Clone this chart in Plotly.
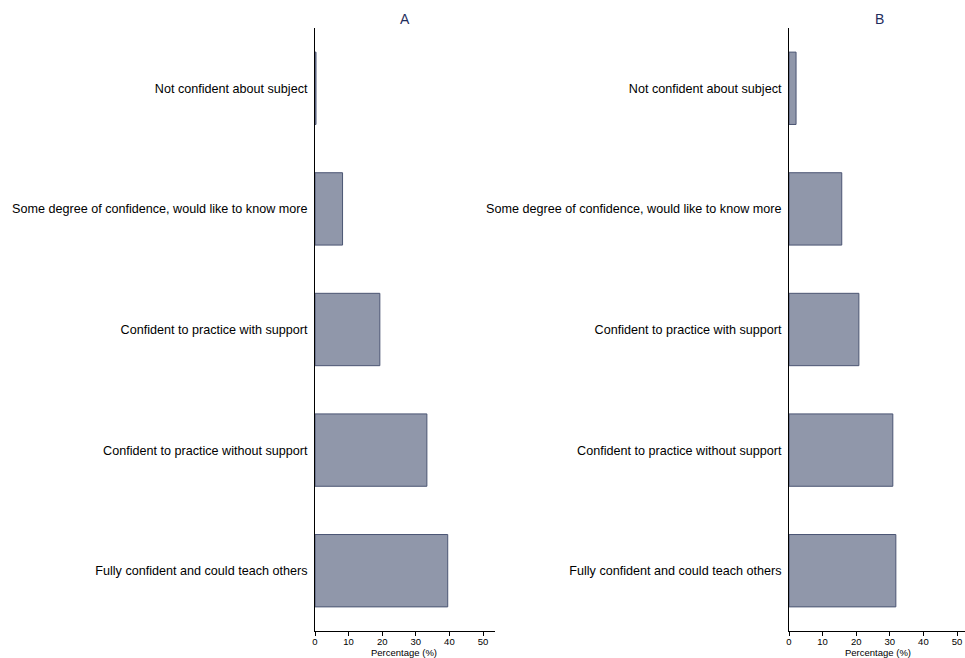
import plotly.graph_objects as go

categories = [
    "Not confident about subject",
    "Some degree of confidence, would like to know more",
    "Confident to practice with support",
    "Confident to practice without support",
    "Fully confident and could teach others",
]
values_a = [0.3, 8.2, 19.3, 33.3, 39.5]
values_b = [2.1, 15.7, 20.8, 30.9, 31.8]
panel_titles = ["A", "B"]
tick_vals = [0, 10, 20, 30, 40, 50]
x_title = "Percentage (%)"

W, H = 965, 658
fill = "#9097aa"
edge = "#4b5573"
font_family = "Liberation Sans, Arial, sans-serif"

fig = go.Figure()
fig.add_trace(go.Bar(x=values_a, y=categories, orientation="h", width=0.6,
                     marker=dict(color=fill, line=dict(color=edge, width=1)),
                     xaxis="x", yaxis="y", showlegend=False))
fig.add_trace(go.Bar(x=values_b, y=categories, orientation="h", width=0.6,
                     marker=dict(color=fill, line=dict(color=edge, width=1)),
                     xaxis="x2", yaxis="y2", showlegend=False))

ydom = [1 - 631 / H, 1 - 28 / H]
xa_dom = [315 / W, 495 / W]
xb_dom = [789 / W, 1.0]
px_per_unit = 3.36

def xaxis_cfg(dom, anchor):
    width_px = (dom[1] - dom[0]) * W
    return dict(domain=dom, anchor=anchor, range=[0, width_px / px_per_unit],
                showline=True, linecolor="black", linewidth=1,
                ticks="outside", ticklen=4, tickcolor="black",
                tickvals=tick_vals, showgrid=False, zeroline=False,
                automargin=False, ticklabelstandoff=-2,
                tickfont=dict(size=9.5, color="black", family=font_family))

def yaxis_cfg(anchor):
    return dict(domain=ydom, anchor=anchor, categoryorder="array",
                categoryarray=categories, range=[4.5, -0.5],
                showline=True, linecolor="black", linewidth=1,
                ticks="", showgrid=False, zeroline=False,
                automargin=False, ticklabelstandoff=4,
                tickfont=dict(size=12.6, color="black", family=font_family))

fig.update_layout(
    width=W, height=H,
    margin=dict(l=0, r=0, t=0, b=0, autoexpand=False),
    plot_bgcolor="white", paper_bgcolor="white",
    xaxis=xaxis_cfg(xa_dom, "y"),
    xaxis2=xaxis_cfg(xb_dom, "y2"),
    yaxis=yaxis_cfg("x"),
    yaxis2=yaxis_cfg("x2"),
)

centers = [405 / W, 879 / W]
for title, cx in zip(panel_titles, centers):
    fig.add_annotation(text=title, x=cx, y=1 - 19 / H, xref="paper", yref="paper",
                       showarrow=False, xanchor="center", yanchor="middle",
                       font=dict(size=14, color="#1f2d5c", family=font_family))
    fig.add_annotation(text=x_title, x=cx - 1.5 / W, y=1 - 652 / H, xref="paper", yref="paper",
                       showarrow=False, xanchor="center", yanchor="middle",
                       font=dict(size=9.5, color="black", family=font_family))

fig.write_html("out.html", config={"displayModeBar": False},
               post_script="document.body.style.margin='0';document.body.style.overflow='hidden';")
